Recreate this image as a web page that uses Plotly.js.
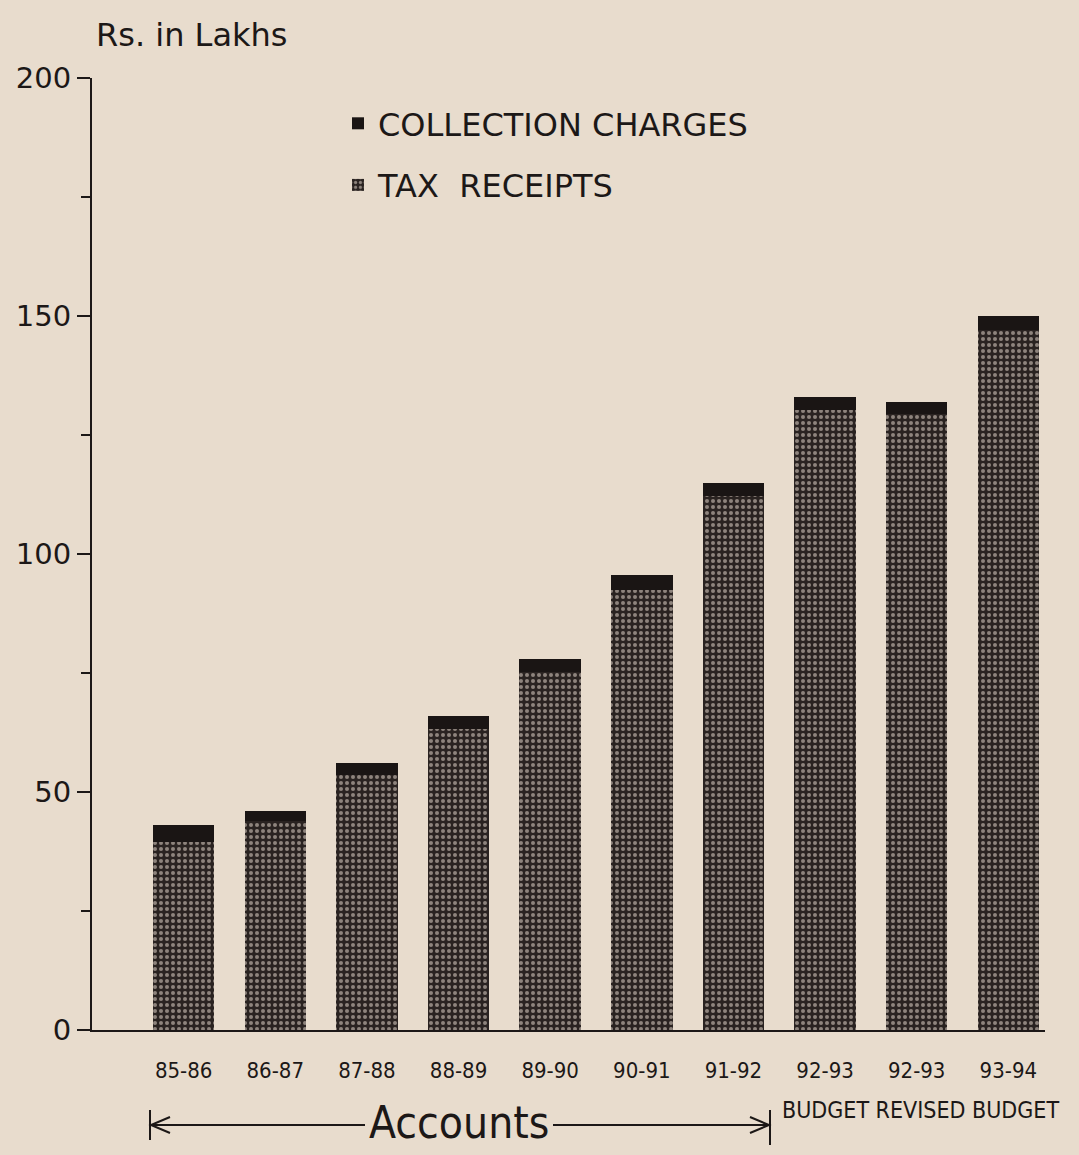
<!DOCTYPE html>
<html>
<head>
<meta charset="utf-8">
<script src="https://cdn.plot.ly/plotly-3.0.1.min.js"></script>
<style>html,body{margin:0;padding:0;background:#e8dccd;}</style>
</head>
<body>
<div id="chart" style="width:1079px;height:1155px;"></div>
<script>
// ---- data (Rs. in Lakhs) ----
const categories = ['85-86','86-87','87-88','88-89','89-90','90-91','91-92','92-93','92-93','93-94'];
const taxReceipts = [39.5, 44, 53.5, 63.2, 75.2, 92.5, 112.2, 130.2, 129.5, 147];
const collectionCharges = [3.5, 2, 2.5, 2.8, 2.8, 3, 2.8, 2.8, 2.5, 3];
const yTickVals = [0, 50, 100, 150, 200];

const idx = categories.map((c, i) => i);

// pixel -> paper helpers for decorations
const L = 92, R = 34, T = 78, B = 125, W = 1079, H = 1155;
const pw = W - L - R, ph = H - T - B;
const fx = px => (px - L) / pw;
const fy = py => (H - B - py) / ph;

const font = 'DejaVu Sans, Liberation Sans, sans-serif';
const cond = 'DejaVu Sans Condensed, Liberation Sans Narrow, DejaVu Sans, sans-serif';
const ink = '#1c1817';

const traces = [
  {
    type: 'bar', name: 'TAX  RECEIPTS', x: idx, y: taxReceipts, width: 0.67,
    legendrank: 2, legendgroup: 'tax',
    marker: {color: '#2a2321', line: {width: 0},
      pattern: {shape: '.', fgcolor: '#8e847d', bgcolor: '#2a2321', size: 6, solidity: 0.35}}
  },
  {
    type: 'bar', name: 'COLLECTION CHARGES', x: idx, y: collectionCharges, width: 0.67,
    legendrank: 1, legendgroup: 'coll',
    marker: {color: '#1a1514', line: {width: 0}}
  }
];

const arrowY = 1125;
const shapes = [
  {type: 'line', xref: 'paper', yref: 'paper', x0: fx(150), x1: fx(365), y0: fy(arrowY), y1: fy(arrowY), line: {color: ink, width: 2}},
  {type: 'path', xref: 'paper', yref: 'paper',
   path: `M ${fx(170)} ${fy(arrowY-8)} L ${fx(151)} ${fy(arrowY)} L ${fx(170)} ${fy(arrowY+8)}`, line: {color: ink, width: 2}},
  {type: 'line', xref: 'paper', yref: 'paper', x0: fx(150), x1: fx(150), y0: fy(1110), y1: fy(1140), line: {color: ink, width: 2}},
  {type: 'line', xref: 'paper', yref: 'paper', x0: fx(553), x1: fx(770), y0: fy(arrowY), y1: fy(arrowY), line: {color: ink, width: 2}},
  {type: 'path', xref: 'paper', yref: 'paper',
   path: `M ${fx(750)} ${fy(arrowY-8)} L ${fx(769)} ${fy(arrowY)} L ${fx(750)} ${fy(arrowY+8)}`, line: {color: ink, width: 2}},
  {type: 'line', xref: 'paper', yref: 'paper', x0: fx(770), x1: fx(770), y0: fy(1110), y1: fy(1145), line: {color: ink, width: 2}}
];

const annotations = [
  {text: 'Rs. in Lakhs', xref: 'paper', yref: 'paper', x: fx(94), y: fy(35), xanchor: 'left', yanchor: 'middle',
   showarrow: false, font: {family: font, size: 32, color: ink}},
  {text: 'Accounts', xref: 'paper', yref: 'paper', x: fx(459), y: fy(1122), xanchor: 'center', yanchor: 'middle',
   showarrow: false, font: {family: cond, size: 44, color: ink}},
  {text: 'BUDGET REVISED BUDGET', xref: 'paper', yref: 'paper', x: fx(920), y: fy(1110), xanchor: 'center', yanchor: 'middle',
   showarrow: false, font: {family: cond, size: 23, color: ink}}
];

const layout = {
  width: W, height: H,
  margin: {l: L, r: R, t: T, b: B, pad: 0},
  paper_bgcolor: '#e8dccd', plot_bgcolor: '#e8dccd',
  barmode: 'stack', showlegend: true,
  legend: {x: fx(338), y: fy(96), xanchor: 'left', yanchor: 'top', bgcolor: 'rgba(0,0,0,0)',
    traceorder: 'grouped', tracegroupgap: 17,
    font: {family: font, size: 32, color: ink}},
  xaxis: {
    range: [-1, 9.4], tickvals: idx, ticktext: categories,
    showline: true, linecolor: ink, linewidth: 2, showgrid: false, zeroline: false,
    ticks: 'outside', ticklen: 20, tickcolor: 'rgba(0,0,0,0)',
    tickfont: {family: cond, size: 22, color: ink}
  },
  yaxis: {
    range: [0, 200], tickvals: yTickVals, ticktext: yTickVals.map(String),
    showline: true, linecolor: ink, linewidth: 2, showgrid: false, zeroline: false,
    ticks: 'outside', ticklen: 13, tickwidth: 2, tickcolor: ink,
    minor: {dtick: 25, ticks: 'outside', ticklen: 9, tickwidth: 2, tickcolor: ink, showgrid: false},
    tickfont: {family: font, size: 29, color: ink}
  },
  shapes: shapes,
  annotations: annotations
};

Plotly.newPlot('chart', traces, layout, {displayModeBar: false, staticPlot: true});
</script>
</body>
</html>
